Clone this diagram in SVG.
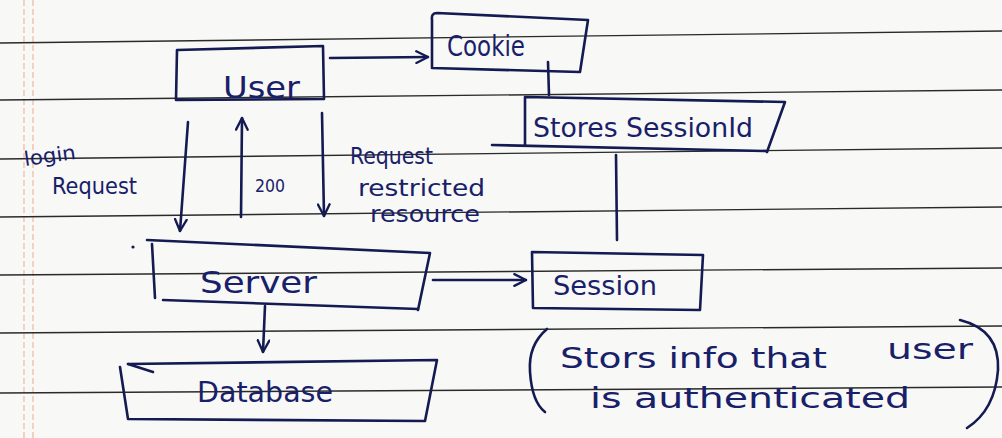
<svg xmlns="http://www.w3.org/2000/svg" width="1002" height="438" viewBox="0 0 1002 438">
  <defs>
    <style>
      .paper{fill:#f8f8f6}
      .rule{stroke:#2a2a2a;stroke-width:1.4;fill:none}
      .margin{stroke:#f1b49a;stroke-width:1.6;fill:none;stroke-dasharray:6 3;opacity:.7}
      .ink{fill:none;stroke:#141a52;stroke-width:2.6;stroke-linecap:round;stroke-linejoin:round}
      .hand{font-family:"DejaVu Sans","Liberation Sans",sans-serif;fill:#18206a}
    </style>
    <marker id="arrow" viewBox="0 0 12 12" refX="11" refY="6" markerWidth="14" markerHeight="14" markerUnits="userSpaceOnUse" orient="auto">
      <path d="M1,1 L11,6 L1,11" fill="none" stroke="#141a52" stroke-width="2" stroke-linecap="round" stroke-linejoin="round"/>
    </marker>
  </defs>

  <!-- notebook page -->
  <rect class="paper" x="0" y="0" width="1002" height="438"/>
  <g id="page-lines">
    <line class="margin" x1="24" y1="0" x2="24" y2="438"/>
    <line class="margin" x1="33" y1="0" x2="33" y2="438"/>
    <line class="rule" x1="0" y1="43" x2="1002" y2="31"/>
    <line class="rule" x1="0" y1="100" x2="1002" y2="90"/>
    <line class="rule" x1="0" y1="159" x2="1002" y2="148"/>
    <line class="rule" x1="0" y1="217" x2="1002" y2="207"/>
    <line class="rule" x1="0" y1="275" x2="1002" y2="268"/>
    <line class="rule" x1="0" y1="333" x2="1002" y2="326"/>
    <line class="rule" x1="0" y1="393" x2="1002" y2="387"/>
  </g>

  <!-- connectors -->
  <g id="connectors">
    <path class="ink" d="M330,58 L428,57" marker-end="url(#arrow)"/>
    <path class="ink" d="M548,62 L549,95"/>
    <path class="ink" d="M616,155 L617,240"/>
    <path class="ink" d="M433,280 L526,280" marker-end="url(#arrow)"/>
    <path class="ink" d="M265,306 L263,352" marker-end="url(#arrow)"/>
    <path class="ink" d="M188,122 L180,231" marker-end="url(#arrow)"/>
    <path class="ink" d="M241,217 L242,118" marker-end="url(#arrow)"/>
    <path class="ink" d="M322,113 L324,216" marker-end="url(#arrow)"/>
  </g>

  <!-- connector labels -->
  <g id="labels">
    <text class="hand" x="25" y="166" font-size="20" textLength="52" lengthAdjust="spacingAndGlyphs" transform="rotate(-8 25 166)">login</text>
    <text class="hand" x="52" y="194" font-size="23" textLength="85" lengthAdjust="spacingAndGlyphs">Request</text>
    <text class="hand" x="255" y="192" font-size="17" textLength="30" lengthAdjust="spacingAndGlyphs">200</text>
    <text class="hand" x="350" y="164" font-size="23" textLength="83" lengthAdjust="spacingAndGlyphs">Request</text>
    <text class="hand" x="358" y="196" font-size="23" textLength="127" lengthAdjust="spacingAndGlyphs">restricted</text>
    <text class="hand" x="370" y="222" font-size="23" textLength="110" lengthAdjust="spacingAndGlyphs">resource</text>
  </g>

  <g id="user">
    <path class="ink" d="M177,50 L323,46 L324,99 L176,100 Z"/>
    <text class="hand" x="223" y="98" font-size="31" textLength="77" lengthAdjust="spacingAndGlyphs">User</text>
  </g>

  <g id="cookie">
    <path class="ink" d="M432,20 Q431,13 437,13 L588,20 L580,72 L432,68 Z"/>
    <text class="hand" x="447" y="56" font-size="28" textLength="78" lengthAdjust="spacingAndGlyphs">Cookie</text>
  </g>

  <g id="session-id">
    <path class="ink" d="M525,145 L525,97 L785,102 L767,152"/>
    <path class="ink" d="M492,145 L767,151"/>
    <text class="hand" x="533" y="137" font-size="26" textLength="220" lengthAdjust="spacingAndGlyphs">Stores SessionId</text>
  </g>

  <g id="server">
    <path class="ink" d="M147,240 L430,253 L418,310"/>
    <path class="ink" d="M152,244 L155,298"/>
    <path class="ink" d="M163,300 L418,309"/>
    <circle cx="133" cy="247" r="1.6" fill="#141a52"/>
    <text class="hand" x="200" y="293" font-size="30" textLength="117" lengthAdjust="spacingAndGlyphs">Server</text>
  </g>

  <g id="session">
    <path class="ink" d="M532,252 L703,255 L700,310 L533,308 Z"/>
    <text class="hand" x="553" y="295" font-size="26" textLength="104" lengthAdjust="spacingAndGlyphs">Session</text>
  </g>

  <g id="database">
    <path class="ink" d="M128,364 L437,360 L425,421 L128,419 L120,367"/>
    <path class="ink" d="M128,364 L153,372"/>
    <text class="hand" x="197" y="402" font-size="28" textLength="136" lengthAdjust="spacingAndGlyphs">Database</text>
  </g>

  <g id="session-note">
    <path class="ink" d="M547,329 Q528,345 530,372 Q532,402 545,412"/>
    <path class="ink" d="M960,320 Q1000,330 998,370 Q995,410 967,428"/>
    <text class="hand" x="560" y="368" font-size="29" textLength="267" lengthAdjust="spacingAndGlyphs">Stors info that</text>
    <text class="hand" x="887" y="359" font-size="28" textLength="86" lengthAdjust="spacingAndGlyphs">user</text>
    <text class="hand" x="590" y="408" font-size="29" textLength="320" lengthAdjust="spacingAndGlyphs">is authenticated</text>
  </g>
</svg>
